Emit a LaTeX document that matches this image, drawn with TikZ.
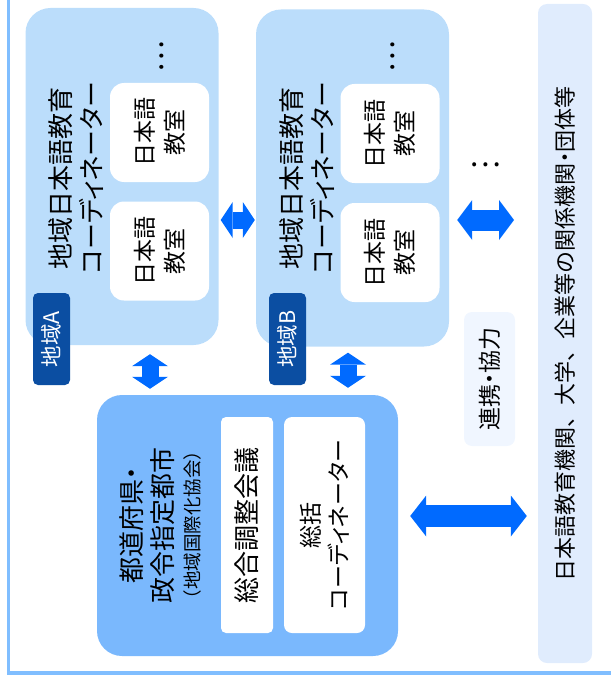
\documentclass[tikz,border=0pt]{standalone}
\usepackage{fontspec}
\setmainfont{Noto Sans CJK JP}[RawFeature=+palt]
\newfontfamily\jpfull{Noto Sans CJK JP}
\usetikzlibrary{arrows.meta}
\definecolor{regfill}{RGB}{187,221,251}
\definecolor{botfill}{RGB}{122,184,253}
\definecolor{labfill}{RGB}{11,78,162}
\definecolor{arrowblue}{RGB}{0,106,255}
\definecolor{rtfill}{RGB}{224,236,253}
\definecolor{coopfill}{RGB}{240,246,255}
\definecolor{framecol}{RGB}{128,190,255}
\newcommand\setfs[2]{\fontsize{#1}{#2}\selectfont}
\newcommand\narrowdot{{\rmfamily ・}}
\begin{document}
\begin{tikzpicture}[x=1pt,y=-1pt,
  box/.style={rectangle, inner sep=0pt, draw=none},
  regbox/.style={box, fill=regfill, rounded corners=25pt, minimum width=193pt, minimum height=337pt},
  cellbox/.style={box, fill=white, rounded corners=14pt, minimum width=99pt, minimum height=99pt, rotate=90, align=center, font=\setfs{23}{30}},
  vtext/.style={rotate=90, inner sep=0pt, align=center},
  labbox/.style={box, fill=labfill, rounded corners=5pt, rotate=90, minimum width=92pt, minimum height=37pt, text=white, font=\jpfull\setfs{21.5}{24}},
  dotsfont/.style={inner sep=0pt, font=\setfs{30}{30}},
  smallarrow/.style={color=arrowblue, line width=17pt, arrows={Triangle[length=12pt,width=36pt,line width=0pt]-Triangle[length=12pt,width=36pt,line width=0pt]}},
  midarrow/.style={color=arrowblue, line width=21pt, arrows={Triangle[length=15pt,width=40pt,line width=0pt]-Triangle[length=15pt,width=40pt,line width=0pt]}},
  bigarrow/.style={color=arrowblue, line width=22pt, arrows={Triangle[length=16pt,width=41pt,line width=0pt]-Triangle[length=16pt,width=41pt,line width=0pt]}}
]
\useasboundingbox (0,0) rectangle (611,679);
% outer frame
\draw[line width=3.5pt, framecol] (8.5,0) -- (8.5,673) -- (611,673);

% regions
\node[regbox] (rA) at (122,176.5) {};
\node[regbox] (rB) at (352.5,178) {};
\node[vtext, font=\setfs{26}{31}] (tA) at (76.5,178) {地域日本語教育\\コーディネーター};
\node[vtext, font=\setfs{26}{31}] (tB) at (307.5,178) {地域日本語教育\\コーディネーター};
\node[cellbox] (a1) at (159.5,132.5) {日本語\\教室};
\node[cellbox] (a2) at (159.5,251) {日本語\\教室};
\node[cellbox] (b1) at (390,133.5) {日本語\\教室};
\node[cellbox] (b2) at (390,252.5) {日本語\\教室};
\node[vtext, dotsfont] (dA) at (162,57) {…};
\node[vtext, dotsfont] (dB) at (393,57) {…};
\node[labbox] (lA) at (51.5,339) {地域A};
\node[labbox] (lB) at (287.5,339) {地域B};
\node[dotsfont] (more) at (485,165) {…};

% prefecture box
\node[box, fill=botfill, rounded corners=25pt, minimum width=301pt, minimum height=261pt] (bot) at (247.5,525.5) {};
\node[vtext, font=\setfs{26}{31}] (botT) at (160,525) {都道府県・\\政令指定都市\\[-4pt]{\jpfull\setfs{18.5}{20}（地域国際化協会）}};
\node[box, fill=white, rounded corners=5pt, rotate=90, minimum width=216pt, minimum height=52pt, font=\setfs{26}{31}] (c1) at (247,525) {総合調整会議};
\node[box, fill=white, rounded corners=8pt, rotate=90, minimum width=216pt, minimum height=81pt, align=center, font=\setfs{23}{28}] (c2) at (324.5,525) {総括\\コーディネーター};

% right side
\node[box, fill=coopfill, rounded corners=8pt, rotate=90, minimum width=134pt, minimum height=51pt, font=\jpfull\setfs{23}{26}] (coop) at (489.5,379) {連携\narrowdot 協力};
\node[box, fill=rtfill, rounded corners=9pt, rotate=90, minimum width=659pt, minimum height=54pt, font=\jpfull\setfs{22}{26}] (rt) at (565,333.5) {日本語教育機関、大学、企業等の関係機関\narrowdot 団体等};

% connectors
\coordinate (yab) at (0,220);
\coordinate (moreend) at (514,220);
\coordinate (xa) at (150,0);
\coordinate (xb) at (348,0);
\coordinate (ybt) at (0,516);
\draw[smallarrow, shorten <=2pt, shorten >=1pt] (rA.east |- yab) -- (rB.west |- yab);
\draw[midarrow, shorten <=8pt] (rB.east |- yab) -- (moreend);
\draw[smallarrow, shorten <=9pt, shorten >=6pt] (xa |- rA.south) -- (xa |- bot.north);
\draw[smallarrow, shorten <=6pt, shorten >=7pt] (xb |- rB.south) -- (xb |- bot.north);
\draw[bigarrow, shorten <=12pt, shorten >=11pt] (bot.east |- ybt) -- (rt.north |- ybt);
\end{tikzpicture}
\end{document}
